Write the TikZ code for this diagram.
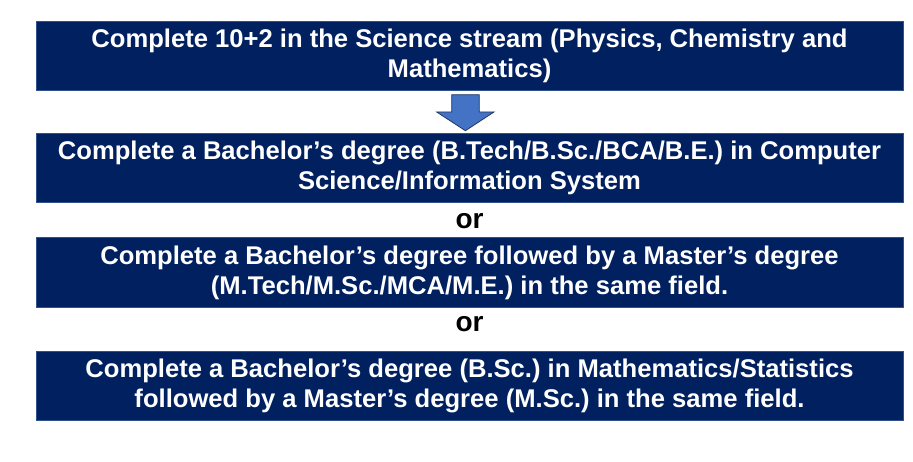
\documentclass[tikz,border=0pt]{standalone}
\usepackage{fontspec}
\setmainfont{Liberation Sans}
\frenchspacing
\definecolor{navy}{HTML}{002060}
\definecolor{navyedge}{HTML}{2F528F}
\definecolor{arrowfill}{HTML}{4472C4}
\definecolor{arrowedge}{HTML}{203864}
\begin{document}
\begin{tikzpicture}[x=1pt,y=-1pt,
  stepbox/.style={draw=navyedge, line width=0.8pt, fill=navy, text=white,
    font=\fontsize{25.6}{30}\selectfont\bfseries, align=center,
    minimum width=867pt, minimum height=69.5pt, inner sep=0pt},
  ortext/.style={font=\fontsize{28}{32}\selectfont\bfseries, text=black, inner sep=0pt}]
\useasboundingbox (0,0) rectangle (913,462);
\fill[white] (0,0) rectangle (913,462);
\node[stepbox] (b1) at (469.5,55.8) {Complete 10+2 in the Science stream (Physics, Chemistry and\\Mathematics)};
\node[stepbox] (b2) at (469.5,167.8) {Complete a Bachelor’s degree (B.Tech/B.Sc./BCA/B.E.) in Computer\\Science/Information System};
\node[stepbox] (b3) at (469.5,272.6) {Complete a Bachelor’s degree followed by a Master’s degree\\(M.Tech/M.Sc./MCA/M.E.) in the same field.};
\node[stepbox] (b4) at (469.5,386) {Complete a Bachelor’s degree (B.Sc.) in Mathematics/Statistics\\followed by a Master’s degree (M.Sc.) in the same field.};
\node[ortext, anchor=base] (or1) at (469.5,228.3) {or};
\node[ortext, anchor=base] (or2) at (469.5,331.5) {or};
\draw[fill=arrowfill, draw=arrowedge, line width=0.8pt, line join=miter]
  (451.7,94.7) -- (479.3,94.7) -- (479.3,112) -- (494,112) -- (465.4,130.7)
  -- (436.7,112) -- (451.7,112) -- cycle;
\end{tikzpicture}
\end{document}
